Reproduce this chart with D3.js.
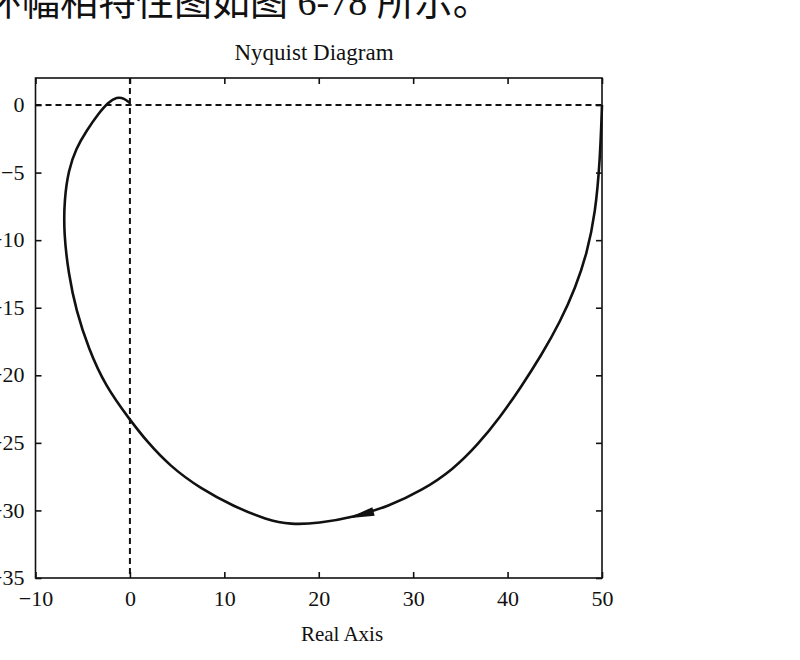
<!DOCTYPE html>
<html>
<head>
<meta charset="utf-8">
<script src="https://cdn.jsdelivr.net/npm/d3@7"></script>
<style>
  body { margin: 0; background: #fff; }
  svg { display: block; }
</style>
</head>
<body>
<svg></svg>
<script>
const WIDTH = 800;
const HEIGHT = 660;

// Nyquist curve (real part, imaginary part), from w = 0 onward
const re = [50, 49.8, 49.3, 48.4, 47.2, 45.6, 43.6, 41.3, 39.2, 36.9, 34.2, 31.0,
  27.4, 23.6, 20.0, 17.0, 14.5, 11.0, 7.5, 4.2, 1.8, 0, -2.6, -4.4, -5.7, -6.5,
  -7.0, -6.95, -6.5, -5.7, -4.6, -3.3, -2.3, -1.4, -0.6, 0];
const im = [0, -4, -8, -11, -13.5, -16, -18.5, -21, -23.1, -25.1, -27.0, -28.5,
  -29.7, -30.5, -30.95, -31.05, -30.7, -29.7, -28.4, -26.7, -24.9, -23.3, -20.8, -18.0, -15.2, -12.5,
  -9.5, -7.0, -4.8, -3.2, -1.9, -0.6, 0.2, 0.6, 0.5, 0.15];

// direction arrow on the curve (tip and tail, data units)
const arrowTip = [23.1, -30.58];
const arrowTail = [25.8, -30.08];

const xTicks = [-10, 0, 10, 20, 30, 40, 50];
const yTicks = [0, -5, -10, -15, -20, -25, -30, -35];

const title = 'Nyquist Diagram';
const xLabel = 'Real Axis';
const caption = '环幅相特性图如图 6-78 所示。';

const svg = d3.select('svg').attr('width', WIDTH).attr('height', HEIGHT);

const plotLeft = 35.5, plotRight = 602, plotTop = 78, plotBottom = 578;
const x = d3.scaleLinear().domain([-10, 50]).range([plotLeft, plotRight]);
const y = d3.scaleLinear().domain([-35, 2]).range([plotBottom, plotTop]);

const serif = '"Liberation Serif", "Times New Roman", serif';

// text of the page above the figure (cropped at the top in the scan)
svg.append('text')
  .attr('x', -16)
  .attr('y', 15)
  .attr('font-family', serif + ', "Noto Sans CJK SC"')
  .attr('font-size', 38)
  .attr('fill', '#111')
  .text(caption);

// dashed lines through the origin
svg.append('line')
  .attr('x1', x(-10)).attr('x2', x(50))
  .attr('y1', y(0)).attr('y2', y(0))
  .attr('stroke', '#111').attr('stroke-width', 2)
  .attr('stroke-dasharray', '6,4');
svg.append('line')
  .attr('x1', x(0)).attr('x2', x(0))
  .attr('y1', y(2)).attr('y2', y(-35))
  .attr('stroke', '#111').attr('stroke-width', 2)
  .attr('stroke-dasharray', '6,4');

// axes (ticks inside, on all four sides)
const tick = 6;
svg.append('g')
  .attr('transform', `translate(0,${plotBottom})`)
  .call(d3.axisBottom(x).tickValues(xTicks).tickSize(-tick).tickPadding(12));
svg.append('g')
  .attr('transform', `translate(0,${plotTop})`)
  .call(d3.axisTop(x).tickValues(xTicks).tickSize(-tick).tickFormat(''));
const gy = svg.append('g')
  .attr('transform', `translate(${plotLeft},0)`)
  .call(d3.axisLeft(y).tickValues(yTicks).tickSize(-tick).tickPadding(11));
svg.append('g')
  .attr('transform', `translate(${plotRight},0)`)
  .call(d3.axisRight(y).tickValues(yTicks).tickSize(-tick).tickFormat(''));

svg.selectAll('.domain').remove();
svg.selectAll('.tick line').attr('stroke', '#111').attr('stroke-width', 1.6);
svg.selectAll('.tick text')
  .attr('font-family', serif)
  .attr('font-size', 22)
  .attr('fill', '#111');
gy.selectAll('.tick text').attr('dy', '0.3em');

svg.append('rect')
  .attr('x', plotLeft).attr('y', plotTop)
  .attr('width', plotRight - plotLeft).attr('height', plotBottom - plotTop)
  .attr('fill', 'none')
  .attr('stroke', '#111')
  .attr('stroke-width', 1.6);

// the curve
const line = d3.line()
  .x(d => x(d[0]))
  .y(d => y(d[1]))
  .curve(d3.curveBasis);

svg.append('path')
  .datum(re.map((r, i) => [r, im[i]]))
  .attr('d', line)
  .attr('fill', 'none')
  .attr('stroke', '#111')
  .attr('stroke-width', 2.6)
  .attr('stroke-linejoin', 'round');

// arrow head
const tx = x(arrowTip[0]), ty = y(arrowTip[1]);
const bx = x(arrowTail[0]), by = y(arrowTail[1]);
const len = Math.hypot(tx - bx, ty - by);
const nx = -(ty - by) / len, ny = (tx - bx) / len;
const hw = 4.5;
svg.append('path')
  .attr('d', `M${tx},${ty}L${bx + nx * hw},${by + ny * hw}L${bx - nx * hw},${by - ny * hw}Z`)
  .attr('fill', '#111');

// titles
svg.append('text')
  .attr('x', 314)
  .attr('y', 60)
  .attr('text-anchor', 'middle')
  .attr('font-family', serif)
  .attr('font-size', 23)
  .attr('fill', '#111')
  .text(title);

svg.append('text')
  .attr('x', 342)
  .attr('y', 641)
  .attr('text-anchor', 'middle')
  .attr('font-family', serif)
  .attr('font-size', 21)
  .attr('fill', '#111')
  .text(xLabel);
</script>
</body>
</html>
